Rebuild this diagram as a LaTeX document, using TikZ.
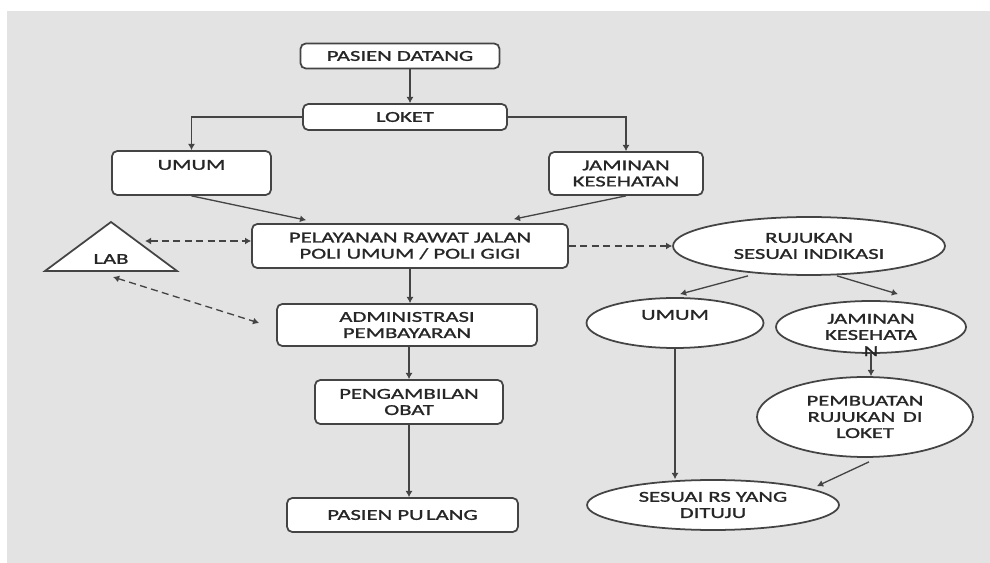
\documentclass[tikz,border=0pt]{standalone}
\usepackage{fontspec}
\setmainfont[FakeStretch=1.5,FakeBold=1.3]{Carlito}
\usetikzlibrary{positioning,calc,arrows.meta,shapes.geometric}
\definecolor{bggrey}{HTML}{E3E3E3}
\definecolor{linegrey}{HTML}{444444}
\definecolor{textgrey}{HTML}{262626}

\begin{document}
\begin{tikzpicture}[x=0.02cm,y=-0.02cm,
            every node/.style={font=\fontsize{8.6}{9.2}\selectfont,text=textgrey,align=center,inner sep=0pt},
            box/.style={draw=linegrey,line width=1pt,fill=white,rounded corners=3pt},
            oval/.style={ellipse,draw=linegrey,line width=1pt,fill=white},
            flow/.style={draw=linegrey,line width=0.75pt,-{Latex[length=3.5pt,width=4pt]}},
            dashflow/.style={flow,dash pattern=on 4pt off 2.5pt},
            dashboth/.style={dashflow,{Latex[length=3.5pt,width=4pt]}-{Latex[length=3.5pt,width=4pt]}}
        ]
            \useasboundingbox (0,0) rectangle (990,563);
            \fill[bggrey] (7,11) rectangle (990,563);
            % left column
            \node[box,minimum width=3.98cm,minimum height=0.5cm] (datang) at (400,56) {PASIEN DATANG};
            \node[box,minimum width=4.08cm,minimum height=0.52cm] (loket) at (405,117) {LOKET};
            \node[box,minimum width=3.18cm,minimum height=0.88cm] (umum) at (191.5,173) {UMUM\\\mbox{}};
            \node[box,minimum width=3.08cm,minimum height=0.86cm] (jaminan) at (626,173.5) {JAMINAN\\KESEHATAN};
            \node[box,minimum width=6.32cm,minimum height=0.88cm] (pelayanan) at (410,246) {PELAYANAN RAWAT JALAN\\POLI UMUM / POLI GIGI};
            \node[box,minimum width=5.2cm,minimum height=0.84cm] (admin) at (407,325) {ADMINISTRASI\\PEMBAYARAN};
            \node[box,minimum width=3.76cm,minimum height=0.88cm] (obat) at (409,402) {PENGAMBILAN\\OBAT};
            \node[box,minimum width=4.62cm,minimum height=0.68cm] (pulang) at (402.5,515) {PASIEN PU\,LANG};
            % lab
            \coordinate (labtop) at (111,222);
            \coordinate (labright) at (177,271);
            \coordinate (lableft) at (45,271);
            \coordinate (labside) at (145,241);
            \coordinate (labfoot) at (113,277);
            \draw[draw=linegrey,line width=1pt,fill=white] (labtop) -- (labright) -- (lableft) -- cycle;
            \node (lab) at (111,259) {LAB};
            % right column
            \node[oval,minimum width=5.44cm,minimum height=1.16cm] (rujukan) at (809,246) {RUJUKAN\\SESUAI INDIKASI};
            \node[oval,minimum width=3.54cm,minimum height=1.0cm] (eumum) at (675,323) {UMUM\\\mbox{}};
            \node[oval,minimum width=3.8cm,minimum height=1.04cm] (ejaminan) at (871,327) {};
            \node (ejamtext) at (871,335) {JAMINAN\\KESEHATA\\N};
            \node[oval,minimum width=4.32cm,minimum height=1.6cm] (pembuatan) at (865,417) {PEMBUATAN\\RUJUKAN\enspace DI\\LOKET};
            \node[oval,minimum width=5.04cm,minimum height=1.0cm] (sesuai) at (713,505) {SESUAI RS YANG\\DITUJU};
            % arrows
            \draw[flow] (datang.south -| pelayanan.north) -- (loket.north -| pelayanan.north);
            \draw[flow] (loket.west) -| (umum.north);
            \draw[flow] (loket.east) -| (jaminan.north);
            \draw[flow] (umum.south) -- ($(pelayanan.north west)+(55,-3)$);
            \draw[flow] (jaminan.south) -- ($(pelayanan.north east)+(-55,-4)$);
            \draw[flow] (pelayanan.south) -- (pelayanan.south |- admin.north);
            \draw[flow] (obat.north |- admin.south) -- (obat.north);
            \draw[flow] (obat.south) -- (obat.south |- pulang.north);
            \draw[dashboth] (labside) -- (labside -| pelayanan.west);
            \draw[dashboth] (labfoot) -- ($(admin.west)+(-17,-2)$);
            \draw[dashflow] (pelayanan.east) -- (rujukan.west);
            \draw[flow] ($(rujukan.south)+(-61,0)$) -- ($(eumum.north)+(5,-3)$);
            \draw[flow] ($(rujukan.south)+(28,0)$) -- ($(ejaminan.north)+(27,-6)$);
            \draw[flow] (ejaminan.south) -- (ejaminan.south |- pembuatan.north);
            \draw[flow] (eumum.south) -- (eumum.south |- sesuai.north);
            \draw[flow] ($(pembuatan.south)+(4,4)$) -- ($(sesuai.north)+(104,7)$);
\end{tikzpicture}
\end{document}
